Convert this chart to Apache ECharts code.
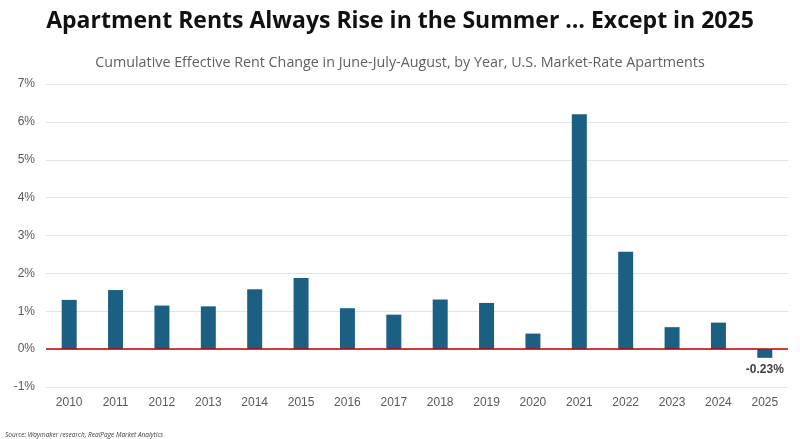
<!DOCTYPE html>
<html>
<head>
<meta charset="utf-8">
<script src="https://cdn.jsdelivr.net/npm/echarts@6/dist/echarts.min.js"></script>
<style>
html,body{margin:0;padding:0;background:#fff;}
#c{width:800px;height:439px;}
</style>
</head>
<body>
<div id="c"></div>
<script>
var years = ['2010','2011','2012','2013','2014','2015','2016','2017','2018','2019','2020','2021','2022','2023','2024','2025'];
var rentChange = [1.30, 1.56, 1.15, 1.13, 1.58, 1.88, 1.08, 0.91, 1.31, 1.22, 0.41, 6.20, 2.57, 0.58, 0.70, -0.23];
var labeledYear = '2025';

var chart = echarts.init(document.getElementById('c'));
var barData = rentChange.map(function (v, i) {
  if (years[i] === labeledYear) {
    return {
      value: v,
      label: {
        show: true, position: 'bottom', distance: 6,
        formatter: function (p) { return p.value.toFixed(2) + '%'; },
        fontFamily: 'Liberation Sans', fontWeight: 'bold', fontSize: 12, color: '#404040'
      }
    };
  }
  return v;
});

chart.setOption({
  animation: false,
  backgroundColor: '#ffffff',
  title: [{
    text: 'Apartment Rents Always Rise in the Summer \u2026 Except in 2025',
    left: 'center', top: 5,
    textStyle: { fontFamily: 'Open Sans', fontWeight: 'bold', fontSize: 23, color: '#111111' }
  }, {
    text: 'Cumulative Effective Rent Change in June-July-August, by Year, U.S. Market-Rate Apartments',
    left: 'center', top: 51,
    textStyle: { fontFamily: 'Open Sans', fontWeight: 'normal', fontSize: 14.3, color: '#606060' }
  }, {
    text: 'Source: Waymaker research, RealPage Market Analytics',
    left: 0, top: 427,
    textStyle: { fontFamily: 'Open Sans', fontStyle: 'italic', fontWeight: 'normal', fontSize: 6.5, color: '#404040' }
  }],
  grid: { left: 46, right: 12, top: 84, bottom: 52, containLabel: false },
  xAxis: {
    type: 'category',
    data: years,
    axisLine: { show: false },
    axisTick: { show: false },
    axisLabel: { fontFamily: 'Liberation Sans', fontSize: 12, color: '#595959', margin: 10 }
  },
  yAxis: {
    type: 'value',
    min: -1, max: 7, interval: 1,
    axisLabel: { formatter: '{value}%', fontFamily: 'Liberation Sans', fontSize: 12, color: '#595959', margin: 11 },
    splitLine: { lineStyle: { color: '#e3e3e3', width: 1 } },
    axisLine: { show: false },
    axisTick: { show: false }
  },
  series: [{
    type: 'bar',
    data: barData,
    barWidth: 15,
    itemStyle: { color: '#1b6083' },
    markLine: {
      silent: true,
      symbol: 'none',
      label: { show: false },
      lineStyle: { color: '#c00000', type: 'solid', width: 1.5 },
      data: [{ yAxis: 0 }]
    }
  }]
});
</script>
</body>
</html>
